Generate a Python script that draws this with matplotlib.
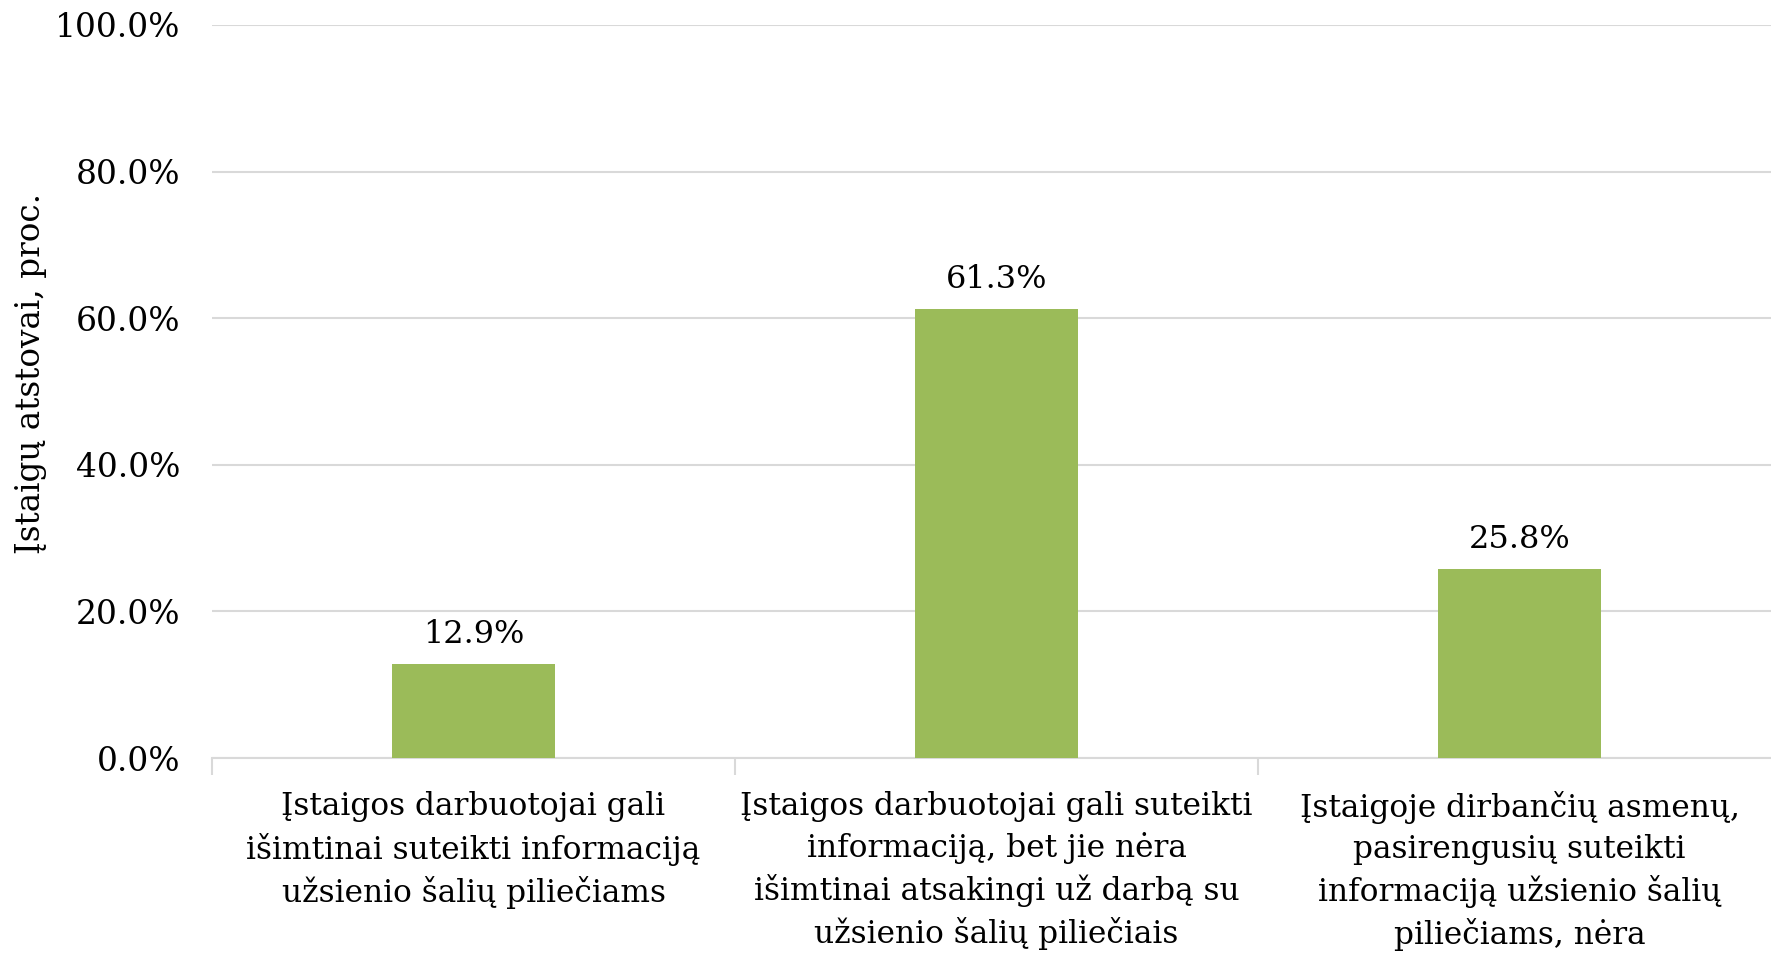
import matplotlib.pyplot as plt
from matplotlib.ticker import FuncFormatter

categories = [
    "Įstaigos darbuotojai gali\nišimtinai suteikti informaciją\nužsienio šalių piliečiams",
    "Įstaigos darbuotojai gali suteikti\ninformaciją, bet jie nėra\nišimtinai atsakingi už darbą su\nužsienio šalių piliečiais",
    "Įstaigoje dirbančių asmenų,\npasirengusių suteikti\ninformaciją užsienio šalių\npiliečiams, nėra",
]
values = [12.9, 61.3, 25.8]
yticks = [0, 20, 40, 60, 80, 100]

plt.rcParams['font.family'] = ['DejaVu Serif']

fig = plt.figure(figsize=(17.71, 9.56), dpi=100)
ax = fig.add_axes([0.1197, 0.207, 0.886, 0.767])

x = list(range(len(values)))
ax.bar(x, values, width=0.313, color="#9bbb59", zorder=3)
for xi, v in zip(x, values):
    ax.text(xi, v + 1.9, f"{v:.1f}%", ha="center", va="bottom", fontsize=23)

ax.set_xlim(-0.5, 2.5)
ax.set_ylim(0, 100)
ax.set_yticks(yticks)
ax.yaxis.set_major_formatter(FuncFormatter(lambda v, p: f"{v:.1f}%"))
ax.grid(axis="y", color="#d9d9d9", linewidth=1.5, zorder=0)

# category labels centered, separators at boundaries
ax.set_xticks(x)
ax.set_xticklabels(categories, fontsize=22.5, linespacing=1.39)
ax.tick_params(axis="x", length=0, pad=24)
ax.set_xticks([-0.5, 0.5, 1.5, 2.5], minor=True)
ax.tick_params(axis="x", which="minor", length=12, color="#d9d9d9", width=1.5)
ax.tick_params(axis="y", length=0, labelsize=23.7, pad=23)

for s in ["top", "right", "left"]:
    ax.spines[s].set_visible(False)
ax.spines["bottom"].set_color("#d9d9d9")
ax.spines["bottom"].set_linewidth(1.5)

ax.set_ylabel("Įstaigų atstovai, proc.", fontsize=23.5)
ax.yaxis.set_label_coords(-0.105, 0.525)

fig.savefig("out.png", dpi=100)
